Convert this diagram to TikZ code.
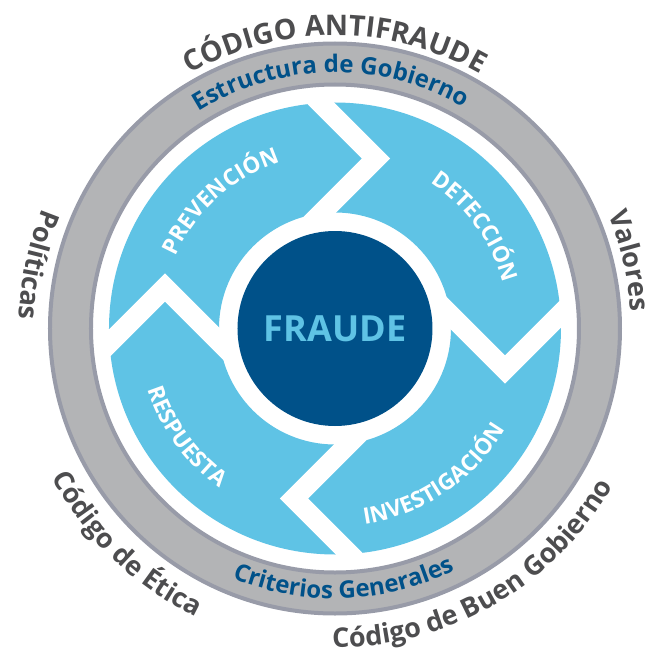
\documentclass[tikz,border=0pt]{standalone}
\usepackage{fontspec}
\setmainfont{Open Sans}
\usepackage{tikz}
\usetikzlibrary{decorations.text}
\definecolor{frblue}{RGB}{0,81,137}
\definecolor{frlight}{RGB}{95,195,229}
\definecolor{ringgray}{RGB}{179,180,182}
\definecolor{ringedge}{RGB}{152,155,168}
\definecolor{txtgray}{RGB}{77,77,79}
\tikzstyle{gap} = [draw=white, line width=20pt, line join=miter, miter limit=10]
\tikzstyle{ring} = [draw=ringedge, line width=4pt, fill=ringgray, even odd rule]
\newcommand{\titlefont}{\fontsize{28.5}{28}\selectfont\bfseries\color{txtgray}}
\newcommand{\outerfont}{\fontsize{27}{27}\selectfont\bfseries\color{txtgray}}
\newcommand{\ringfont}{\fontsize{24}{24}\selectfont\bfseries\color{frblue}}
\newcommand{\stepfont}{\fontsize{22.5}{22}\selectfont\bfseries\color{white}}

\begin{document}
\begin{tikzpicture}[x=1pt, y=1pt]
    \useasboundingbox (-335,-325.5) rectangle (317,328.5);

    % Cycle of four arrows
    \fill[frlight, even odd rule] (0,0) circle[radius=226] circle[radius=116];
    \foreach \a in {0,90,180,270}
        \draw[gap, rotate=\a] (-45,256) -- (41,170) -- (-35,94);

    % Outer ring and centre
    \draw[ring] (0,0) circle[radius=285] circle[radius=244];
    \node[circle, fill=frblue, minimum size=195pt, inner sep=0pt, text=frlight, font=\fontsize{36}{36}\selectfont\bfseries] (fraude) at (0,0) {FRAUDE};

    % Texts inside the ring
    \path[decorate, decoration={text along path, text align=center, text={|\ringfont|Estructura de Gobierno}}]
        (161:256) arc[start angle=161, end angle=21, radius=256];
    \path[decorate, decoration={text along path, text align=center, text={|\ringfont|Criterios Generales}}]
        (202:270) arc[start angle=202, end angle=342, radius=270];

    % Texts round the ring
    \path[decorate, decoration={text along path, text align=center, text={|\titlefont|CÓDIGO ANTIFRAUDE}}]
        (160:293) arc[start angle=160, end angle=20, radius=293];
    \path[decorate, decoration={text along path, text align=center, text={|\outerfont|Valores}}]
        (73:296) arc[start angle=73, end angle=-47, radius=296];
    \path[decorate, decoration={text along path, text align=center, text={|\outerfont|Políticas}}]
        (108:316) arc[start angle=108, end angle=228, radius=316];
    \path[decorate, decoration={text along path, text align=center, text={|\outerfont|Código de Ética}}]
        (156:320) arc[start angle=156, end angle=296, radius=320];
    \path[decorate, decoration={text along path, text align=center, text={|\outerfont|Código de Buen Gobierno}}]
        (225:319) arc[start angle=225, end angle=375, radius=319];

    % Step labels
    \path[decorate, decoration={text along path, text align=center, text={|\stepfont|PREVENCIÓN}}]
        (192:175) arc[start angle=192, end angle=72, radius=175];
    \path[decorate, decoration={text along path, text align=center, text={|\stepfont|DETECCIÓN}}]
        (96:174) arc[start angle=96, end angle=-24, radius=174];
    \path[decorate, decoration={text along path, text align=center, text={|\stepfont|INVESTIGACIÓN}}]
        (244:198) arc[start angle=244, end angle=364, radius=198];
    \path[decorate, decoration={text along path, text align=center, text={|\stepfont|RESPUESTA}}]
        (156:197) arc[start angle=156, end angle=276, radius=197];
\end{tikzpicture}
\end{document}
